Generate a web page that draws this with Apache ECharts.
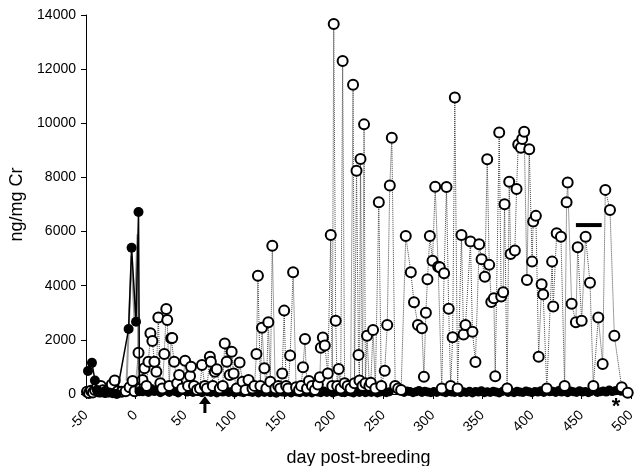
<!DOCTYPE html>
<html>
<head>
<meta charset="utf-8">
<script src="https://cdn.jsdelivr.net/npm/echarts@6/dist/echarts.min.js"></script>
<style>
html, body { margin: 0; padding: 0; background: #fff; }
#chart { width: 634px; height: 466px; }
</style>
</head>
<body>
<div id="chart"></div>
<script>
// x ticks (day post-breeding) and y ticks (ng/mg Cr)
const xTicks = [-50, 0, 50, 100, 150, 200, 250, 300, 350, 400, 450, 500]
const yTicks = [0, 2000, 4000, 6000, 8000, 10000, 12000, 14000]

// open circles, dotted line  [day, ng/mg Cr]
const openPoints = [
  [-49, 80], [-47, 40], [-45, 120], [-43, 60], [-41, 150], [-39, 250], [-37, 90], [-35, 300],
  [-33, 140], [-30, 80], [-27, 100], [-24, 350], [-21, 500], [-18, 100], [-14, 80], [-10, 100],
  [-6, 250], [-3, 480], [-1, 100],
  [3, 1525], [5, 200], [7, 517], [9, 950], [11, 300], [13, 1190], [15, 2240], [17, 1960],
  [19, 1190], [21, 820], [23, 2830], [25, 400], [27, 200], [29, 1480], [31, 3140], [32, 2730],
  [34, 300], [36, 2060], [37, 2070], [39, 1190], [42, 400], [44, 700], [47, 200], [50, 1230],
  [53, 300], [55, 665], [56, 1010], [59, 300], [62, 150], [65, 200], [67, 1070], [70, 300],
  [72, 200], [75, 1380], [76, 1190], [78, 300], [80, 820], [82, 910], [85, 200], [88, 300],
  [90, 1870], [92, 1190], [95, 700], [97, 1560], [99, 760], [102, 200], [105, 1160], [108, 455],
  [111, 150], [114, 517], [118, 200], [120, 300], [122, 1480], [123.5, 4370], [126, 300],
  [127.6, 2450], [130, 950], [132, 200], [134, 2650], [136, 455], [138, 5480], [141, 200],
  [144, 300], [146, 200], [148, 760], [150, 3080], [152, 300], [154, 200], [156, 1420],
  [159, 4500], [162, 250], [165, 150], [167, 300], [169, 990], [171, 2030], [173, 200],
  [175, 480], [178, 300], [181, 150], [184, 350], [186, 616], [187, 1710], [189, 2090],
  [191, 1790], [194, 760], [197, 5870], [198.5, 300], [200, 13670], [202, 2710], [203.5, 300],
  [205, 920], [207, 200], [209, 12300], [211, 400], [214, 300], [217, 200], [219.5, 11420],
  [221, 400], [223, 8250], [225, 1440], [226, 500], [227, 8680], [229, 300], [230.6, 9960],
  [232, 400], [233.6, 2150], [236, 300], [237.4, 420], [239.7, 2360], [242, 200], [245.5, 7080],
  [248, 300], [251.5, 860], [254, 2550], [256.6, 7700], [258.6, 9470], [262, 300], [265, 200],
  [268, 150], [272.7, 5840], [277.8, 4500], [281, 3390], [285, 2550], [289, 2430], [291, 640],
  [293, 3000], [294.6, 4240], [297, 5840], [299.7, 4920], [302.4, 7660], [305.4, 4700],
  [307, 4680], [309, 200], [311.4, 4460], [313.8, 7650], [316, 3150], [318, 300], [320, 2100],
  [322.2, 10950], [325, 200], [328.9, 5870], [331, 2200], [333, 2550], [338, 5630], [340, 2300],
  [343, 1180], [346.8, 5530], [349.2, 4980], [352.5, 4330], [354.9, 8670], [356.9, 4770],
  [359, 3400], [361.6, 3540], [363, 660], [367, 9660], [369, 3600], [371, 3760], [372.4, 7010],
  [375, 200], [377.1, 7840], [378.5, 5170], [382.8, 5300], [384.5, 7570], [386.2, 9220],
  [388.9, 9100], [390.2, 9420], [392.2, 9690], [395, 4210], [397.3, 9040], [400.2, 4890],
  [401.3, 6370], [404, 6580], [406.8, 1380], [409.8, 4050], [411.4, 3680], [415, 200],
  [420.4, 4890], [421.5, 3230], [425, 5940], [429.3, 5810], [433, 300], [435, 7080],
  [436.1, 7810], [440.1, 3330], [444.4, 2650], [446.2, 5420], [450.2, 2710], [454.2, 5810],
  [458.6, 4110], [462, 300], [467, 2830], [471.4, 1110], [474.1, 7540], [478.8, 6800],
  [483.2, 2150], [490.6, 250], [496.7, 50]
]

// filled circles, solid line, before breeding
const blackPoints = [
  [-48, 850], [-44, 1150], [-41, 500], [-39, 150], [-35, 60], [-31, 40], [-27, 60], [-23, 30],
  [-19, 0], [-7, 2400], [-4, 5400], [0.5, 2670], [3, 6720], [4, 100]
]
const greyPoints = [[-9, 500], [-4, 5100], [-1, 2700], [2, 5900], [3, 200]]

// filled circles near zero after breeding, one sample every 3 days from day 4
const bandStart = 4
const bandStep = 3
const bandValues = [
  150, 80, 120, 60, 200, 90, 140, 50, 110, 170, 60, 130, 90, 40, 120, 180, 70, 100, 60, 140,
  90, 50, 120, 80, 60, 150, 40, 100, 70, 130, 60, 90, 40, 110, 70, 50, 120, 80, 60, 100,
  40, 90, 60, 120, 50, 80, 30, 100, 70, 60, 110, 40, 90, 70, 50, 120, 60, 80, 40, 100,
  70, 50, 110, 60, 90, 40, 80, 120, 60, 50, 100, 70, 40, 90, 60, 110, 50, 80, 60, 100, 40, 70, 90, 50, 80,
  null, null, null, null,
  60, 110, 90, 50, 80, 130, 60, 100, 70, 50, 90, 60, 120, 80, 50, 100, 70, 60, 110, 50,
  80, 60, 100, 40, 90, 70, 120, 50, 80, 60, 100, 70, 40, 90, 130, 60, 80, 50, 100, 70,
  60, 110, 80, 50, 90, 70, 120, 60,
  null,
  80, 100, 60, 130, 70, 90, 50, 110, 80, 60, 120, 70, 90, 50, 100, 140, 60, 80, 110, 70, 150, 90, 120, 160, 100, 130
]

// annotations
const barSegment = [[444.4, 6240], [470.4, 6240]]
const arrowDay = 70
const starDay = 485

const bandPoints = bandValues.map((v, i) => [bandStart + i * bandStep, v])

const font = 'Liberation Sans, Arial, sans-serif'
const chart = echarts.init(document.getElementById('chart'))
chart.setOption({
  animation: false,
  grid: { left: 86, right: 3, top: 15, bottom: 72, outerBoundsMode: 'none', containLabel: false },
  xAxis: {
    type: 'value',
    min: xTicks[0],
    max: xTicks[xTicks.length - 1],
    interval: 50,
    name: 'day post-breeding',
    nameLocation: 'middle',
    nameGap: 55,
    nameTextStyle: { color: '#000', fontSize: 18, fontFamily: font },
    splitLine: { show: false },
    axisLine: { onZero: false, lineStyle: { color: '#000', width: 1 } },
    axisTick: { length: 5, lineStyle: { color: '#000' } },
    axisLabel: { rotate: 45, color: '#000', fontSize: 14, fontFamily: font, margin: 19 }
  },
  yAxis: {
    type: 'value',
    min: yTicks[0],
    max: yTicks[yTicks.length - 1],
    interval: 2000,
    name: 'ng/mg Cr',
    nameLocation: 'middle',
    nameGap: 55,
    nameTextStyle: { color: '#000', fontSize: 18, fontFamily: font },
    splitLine: { show: false },
    axisLine: { show: true, onZero: false, lineStyle: { color: '#000', width: 1 } },
    axisTick: { show: true, length: 5, lineStyle: { color: '#000' } },
    axisLabel: { color: '#000', fontSize: 14, fontFamily: font, margin: 10, formatter: v => String(v) }
  },
  series: [
    {
      type: 'line',
      data: bandPoints,
      z: 2,
      symbol: 'circle',
      symbolSize: 9,
      connectNulls: false,
      itemStyle: { color: '#000' },
      lineStyle: { color: '#000', width: 1 }
    },
    {
      type: 'line',
      data: greyPoints,
      z: 3,
      showSymbol: false,
      lineStyle: { color: '#999', width: 2 }
    },
    {
      type: 'line',
      data: openPoints,
      z: 4,
      symbol: 'circle',
      symbolSize: 10,
      itemStyle: { color: '#fff', borderColor: '#000', borderWidth: 2 },
      lineStyle: { color: '#444', width: 1, type: [1, 1] }
    },
    {
      type: 'line',
      data: blackPoints,
      z: 5,
      symbol: 'circle',
      symbolSize: 10,
      itemStyle: { color: '#000' },
      lineStyle: { color: '#000', width: 1.5 }
    },
    {
      type: 'line',
      data: barSegment,
      z: 6,
      showSymbol: false,
      lineStyle: { color: '#000', width: 4 }
    }
  ]
})

// arrow and asterisk below the x axis
const [ax, ay] = chart.convertToPixel({ gridIndex: 0 }, [arrowDay, 0])
const [sx, sy] = chart.convertToPixel({ gridIndex: 0 }, [starDay, 0])
chart.setOption({
  graphic: [
    {
      type: 'line',
      shape: { x1: ax, y1: ay + 6, x2: ax, y2: ay + 19 },
      style: { stroke: '#000', lineWidth: 3 }
    },
    {
      type: 'polygon',
      shape: { points: [[ax - 6, ay + 10], [ax, ay + 2], [ax + 6, ay + 10]] },
      style: { fill: '#000' }
    },
    {
      type: 'text',
      x: sx,
      y: sy + 2,
      style: { text: '*', fill: '#000', font: 'bold 22px ' + font, align: 'center', verticalAlign: 'top' }
    }
  ]
})
</script>
</body>
</html>
